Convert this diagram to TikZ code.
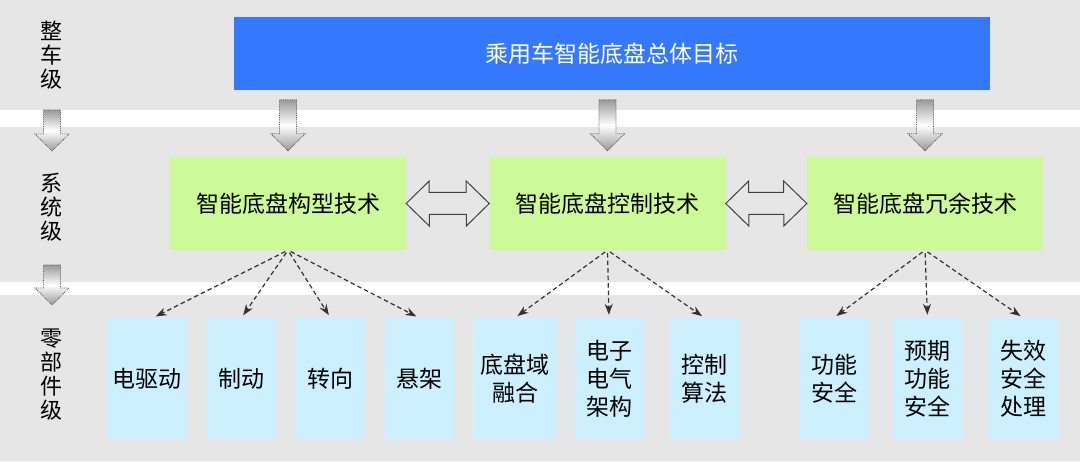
\documentclass[tikz,border=0pt]{standalone}
\usepackage{fontspec}
\setmainfont{Noto Sans CJK SC}
\usetikzlibrary{arrows.meta}
\definecolor{bandgray}{HTML}{E6E6E6}
\definecolor{goalblue}{HTML}{3478FF}
\definecolor{techgreen}{HTML}{CCFA99}
\definecolor{partcyan}{HTML}{CCF0FF}

\begin{document}
\begin{tikzpicture}[x=1pt,y=1pt,
  txt/.style={font=\fontsize{23}{28}\selectfont, inner sep=0pt, align=center},
  goalbox/.style={txt, fill=goalblue, text=white, minimum width=756pt, minimum height=73pt},
  techbox/.style={txt, fill=techgreen, minimum width=236pt, minimum height=93pt},
  partbox/.style={txt, fill=partcyan, minimum width=69pt, minimum height=121pt},
  levellabel/.style={font=\fontsize{22}{24}\selectfont, inner sep=0pt, align=center},
  dnshade/.style={draw=gray!70!black, densely dotted, line width=0.8pt,
    top color=gray!80, bottom color=gray!80, middle color=white},
  linkarrow/.style={draw=black!75, line width=1pt, line join=miter},
  fanarrow/.style={-{Stealth[length=11pt,width=8pt]}, dash pattern=on 4.5pt off 3pt,
    line width=1.2pt, black!80, shorten <=3pt, shorten >=3pt},
  pics/dnarrow/.style={code={
    \path[dnshade] (0,0) -- (-17,17) -- (-8.5,17) -- (-8.5,#1) -- (8.5,#1) -- (8.5,17) -- (17,17) -- cycle;
  }}
]
\useasboundingbox (0,0) rectangle (1080,461);

% level bands
\fill[bandgray] (0,351) rectangle (1080,461);
\fill[bandgray] (0,179) rectangle (1080,334);
\fill[bandgray] (0,0) rectangle (1080,166);

% level names
\node[levellabel] (lv1) at (52,406) {整\\车\\级};
\node[levellabel] (lv2) at (52,254) {系\\统\\级};
\node[levellabel] (lv3) at (52,86) {零\\部\\件\\级};
\pic at (52,310) {dnarrow=41};
\pic at (52,156) {dnarrow=40};

% vehicle level
\node[goalbox] (goal) at (612,407.5) {乘用车智能底盘总体目标};

% system level
\node[techbox] (g1) at (288,257.5) {智能底盘构型技术};
\node[techbox] (g2) at (607.5,257.5) {智能底盘控制技术};
\node[techbox] (g3) at (925,257.5) {智能底盘冗余技术};
\pic at ([yshift=6pt]g1.north) {dnarrow=51};
\pic at ([yshift=6pt]g2.north) {dnarrow=51};
\pic at ([yshift=6pt]g3.north) {dnarrow=51};

\draw[linkarrow] (g1.east) -- ++(23,22.5) -- ++(0,-11.5) -- ++(37,0) -- ++(0,11.5)
  -- (g2.west) -- ++(-23,-22.5) -- ++(0,11.5) -- ++(-37,0) -- ++(0,-11.5) -- cycle;
\draw[linkarrow] (g2.east) -- ++(23,22.5) -- ++(0,-11.5) -- ++(35,0) -- ++(0,11.5)
  -- (g3.west) -- ++(-23,-22.5) -- ++(0,11.5) -- ++(-35,0) -- ++(0,-11.5) -- cycle;

% component level
\node[partbox, minimum width=80pt] (p1) at (147,82.5) {电驱动};
\node[partbox] (p2) at (241.5,82.5) {制动};
\node[partbox] (p3) at (330.5,82.5) {转向};
\node[partbox] (p4) at (419,82.5) {悬架};
\node[partbox, minimum width=84pt] (p5) at (515,82.5) {底盘域\\融合};
\node[partbox] (p6) at (609,82.5) {电子\\电气\\架构};
\node[partbox] (p7) at (704.5,82.5) {控制\\算法};
\node[partbox] (p8) at (834,82.5) {功能\\安全};
\node[partbox] (p9) at (927.5,82.5) {预期\\功能\\安全};
\node[partbox] (p10) at (1023,82.5) {失效\\安全\\处理};

\draw[fanarrow] (g1.south) -- ([xshift=6pt]p1.north);
\draw[fanarrow] (g1.south) -- (p2.north);
\draw[fanarrow] (g1.south) -- (p3.north);
\draw[fanarrow] (g1.south) -- (p4.north);
\draw[fanarrow] (g2.south) -- (p5.north);
\draw[fanarrow] (g2.south) -- (p6.north);
\draw[fanarrow] (g2.south) -- (p7.north);
\draw[fanarrow] (g3.south) -- (p8.north);
\draw[fanarrow] (g3.south) -- (p9.north);
\draw[fanarrow] (g3.south) -- (p10.north);
\end{tikzpicture}
\end{document}
